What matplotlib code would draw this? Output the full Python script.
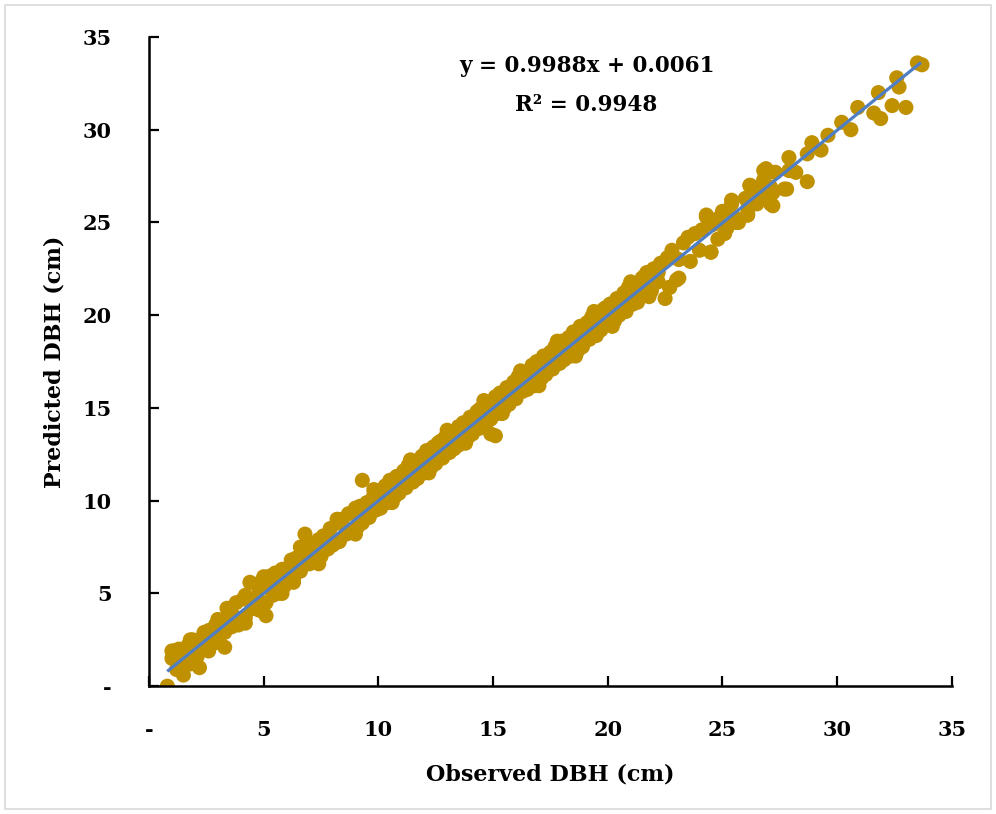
import matplotlib
matplotlib.use("Agg")
import matplotlib.pyplot as plt
from matplotlib.patches import Rectangle

plt.rcParams['font.family'] = ['DejaVu Serif']
plt.rcParams['font.weight'] = 'bold'

# observed / predicted DBH (cm) in segments
obs_a = [0.8, 1.0, 1.1, 1.2, 1.3, 1.4, 1.5, 1.6, 1.7, 1.8,
         1.9, 2.0, 2.1, 2.2, 2.3, 2.5, 2.6, 2.8, 2.9, 3.0,
         3.2, 3.3, 3.5, 3.6, 3.8, 3.9, 4.1, 4.2, 4.4, 4.6]
pred_a = [0.0, 1.5, 1.9, 0.9, 2.0, 1.3, 0.6, 1.8, 2.2, 1.2,
          2.5, 1.7, 2.2, 1.0, 2.6, 2.0, 3.0, 2.3, 3.3, 2.4,
          3.5, 2.1, 3.9, 3.2, 4.5, 3.5, 4.7, 3.7, 5.6, 4.2]

obs_b = [4.7, 4.8, 5.0, 5.1, 5.2, 5.4, 5.5, 5.6, 5.8, 5.9,
         6.0, 6.2, 6.3, 6.4, 6.6, 6.7, 6.8, 7.0, 7.1, 7.2,
         7.4, 7.5, 7.6, 7.8, 7.9, 8.0, 8.2, 8.3, 8.4, 8.6,
         8.7, 8.8, 9.0, 9.1, 9.2, 9.4, 9.5, 9.6, 9.8, 9.9, 9.3]
pred_b = [5.5, 4.1, 5.6, 3.8, 5.9, 4.9, 6.1, 5.0, 6.3, 5.4,
          5.7, 6.8, 5.6, 6.9, 6.2, 7.4, 8.2, 6.6, 7.6, 6.8,
          7.9, 7.1, 8.1, 7.4, 8.5, 7.6, 8.8, 7.8, 9.0, 8.2,
          9.3, 8.3, 9.6, 8.6, 9.7, 9.1, 9.9, 9.1, 10.3, 9.5, 11.1]

obs_c = [10.0, 10.1, 10.3, 10.4, 10.5, 10.7, 10.8, 10.9, 11.1, 11.2,
         11.3, 11.5, 11.6, 11.7, 11.9, 12.0, 12.1, 12.3, 12.4, 12.5,
         12.7, 12.8, 12.9, 13.1, 13.2, 13.3, 13.5, 13.6, 13.7, 13.9,
         14.0, 14.1, 14.3, 14.4, 14.5, 14.7, 14.8, 14.9, 15.1, 15.2,
         15.3, 15.5, 15.6, 15.7, 15.9, 15.1, 14.9]
pred_c = [10.5, 9.6, 10.8, 9.9, 11.1, 10.2, 11.3, 10.4, 11.6, 10.7,
          11.9, 11.0, 12.1, 11.2, 12.4, 11.5, 12.7, 11.8, 12.9, 12.0,
          13.2, 12.3, 13.4, 12.6, 13.7, 12.8, 14.0, 13.1, 14.2, 13.4,
          14.5, 13.6, 14.8, 13.9, 15.0, 14.2, 15.3, 14.4, 15.6, 14.7,
          15.8, 15.0, 16.1, 15.2, 16.4, 13.5, 13.6]

obs_d = [16.0, 16.1, 16.3, 16.4, 16.5, 16.7, 16.8, 16.9, 17.1, 17.2,
         17.3, 17.5, 17.6, 17.7, 17.9, 18.0, 18.1, 18.3, 18.4, 18.5,
         18.7, 18.8, 18.9, 19.1, 19.2, 19.3, 19.5, 19.6, 19.7, 19.9,
         20.0, 20.1, 20.3, 20.4, 20.5, 20.7, 20.8, 20.9, 21.1, 21.2,
         21.3, 21.5, 21.6, 21.7, 21.9]
pred_d = [15.5, 16.7, 15.9, 16.9, 16.0, 17.3, 16.2, 17.5, 16.6, 17.8,
          16.8, 18.0, 17.1, 18.3, 17.4, 18.6, 17.6, 18.8, 17.8, 19.1,
          18.1, 19.4, 18.3, 19.6, 18.7, 19.9, 18.9, 20.1, 19.2, 20.4,
          19.5, 20.6, 19.7, 20.9, 20.0, 21.2, 20.2, 21.5, 20.6, 21.7,
          20.8, 22.0, 21.1, 22.3, 21.3]

obs_e = [22.0, 22.2, 22.3, 22.5, 22.6, 22.7, 22.8, 23.0, 23.1, 23.3,
         23.5, 23.6, 23.8, 24.0, 24.1, 24.3, 24.5, 24.6, 24.8, 25.0,
         25.2, 25.4, 25.5, 25.7, 26.0, 26.1, 26.3, 26.5, 26.8, 27.0]
pred_e = [22.5, 21.8, 22.8, 20.9, 23.1, 21.5, 23.5, 21.9, 23.0, 23.9,
          24.2, 22.9, 24.4, 23.5, 24.6, 25.4, 23.4, 24.9, 24.1, 25.6,
          24.7, 26.0, 25.3, 25.0, 26.3, 25.4, 26.5, 26.0, 27.3, 26.4]

obs_f = [33.5, 33.7, 32.6, 32.7, 31.8, 32.4, 33.0, 30.9, 31.6, 31.9,
         30.2, 30.6, 29.6, 28.9, 29.3, 28.7, 27.9, 27.9, 28.2, 26.9,
         27.3, 28.7, 26.2, 26.5, 27.1, 27.2, 27.8, 26.6, 27.1, 26.1, 26.1]
pred_f = [33.6, 33.5, 32.8, 32.3, 32.0, 31.3, 31.2, 31.2, 30.9, 30.6,
          30.4, 30.0, 29.7, 29.3, 28.9, 28.7, 28.5, 27.8, 27.7, 27.9,
          27.7, 27.2, 27.0, 26.9, 26.9, 26.6, 26.8, 26.3, 26.0, 26.1, 25.5]

# the dense band between the edges
obs_g = [1.2, 1.5, 1.8, 2.1, 2.4, 2.7, 3.0, 3.3, 3.6, 3.9,
         4.2, 4.5, 4.8, 5.1, 5.4, 5.7, 6.0, 6.3, 6.6, 6.9,
         7.2, 7.5, 7.8, 8.1, 8.4, 8.7, 9.0, 9.3, 9.6, 9.9,
         10.2, 10.5, 10.8, 11.1, 11.4, 11.7, 12.0, 12.3, 12.6, 12.9,
         13.2, 13.5, 13.8, 14.1, 14.4, 14.7, 15.0, 15.3, 15.6, 15.9,
         16.2, 16.5, 16.8, 17.1, 17.4, 17.7, 18.0, 18.3, 18.6, 18.9,
         19.2, 19.5, 19.8, 20.1, 20.4, 20.7, 21.0, 21.3, 21.6, 21.9]
pred_g = [1.6, 1.2, 2.0, 1.6, 2.9, 2.5, 3.6, 2.9, 3.9, 3.3,
          4.9, 4.2, 5.2, 4.5, 6.0, 5.3, 6.3, 5.7, 7.1, 6.6,
          7.7, 7.0, 8.1, 7.7, 8.9, 8.4, 9.4, 8.8, 9.9, 9.6,
          10.6, 10.1, 11.3, 10.8, 11.7, 11.2, 12.4, 12.0, 13.1, 12.5,
          13.5, 13.0, 14.2, 13.8, 14.9, 14.3, 15.3, 14.8, 16.0, 15.6,
          16.7, 16.1, 17.1, 16.6, 17.8, 17.4, 18.5, 17.9, 18.9, 18.4,
          19.6, 19.2, 20.3, 19.7, 20.7, 20.2, 21.4, 20.7, 22.1, 21.4]

obs_h = [1.0, 1.4, 1.8, 2.2, 2.6, 3.0, 3.4, 3.8, 4.2, 4.6,
         5.0, 5.4, 5.8, 6.2, 6.6, 7.0, 7.4, 7.8, 8.2, 8.6,
         9.0, 9.4, 9.8, 10.2, 10.6, 11.0, 11.4, 11.8, 12.2, 12.6,
         13.0, 13.4, 13.8, 14.2, 14.6, 15.0, 15.4, 15.8, 16.2, 16.6,
         17.0, 17.4, 17.8, 18.2, 18.6, 19.0, 19.4, 19.8, 20.2, 20.6,
         21.0, 21.4, 21.8, 22.2]
pred_h = [1.9, 1.3, 2.5, 2.2, 1.9, 3.1, 4.2, 3.7, 3.4, 4.7,
          5.9, 5.3, 5.0, 6.3, 7.5, 7.0, 6.6, 7.9, 9.0, 8.5,
          8.2, 9.5, 10.6, 10.1, 9.9, 11.1, 12.2, 11.7, 11.5, 12.7,
          13.8, 13.3, 13.1, 14.3, 15.4, 15.0, 14.7, 15.9, 17.0, 16.5,
          16.2, 17.5, 18.6, 18.1, 17.8, 19.1, 20.2, 19.7, 19.4, 20.7,
          21.8, 21.3, 21.0, 22.3]

# scattered points between 22 and 28 cm
obs_i = [26.8, 27.3, 26.2, 27.7, 27.2, 25.6, 26.1, 25.1, 24.3, 24.5,
         23.1, 22.7, 24.8, 25.4, 26.6]
pred_i = [27.8, 27.7, 27.0, 26.8, 25.9, 25.0, 25.4, 24.4, 25.3, 23.4,
          22.0, 21.5, 25.2, 26.2, 26.2]

slope = 0.9988
intercept = 0.0061
r2 = 0.9948

ticks = [0, 5, 10, 15, 20, 25, 30, 35]
tick_labels = ['-', '5', '10', '15', '20', '25', '30', '35']

observed = obs_a + obs_b + obs_c + obs_d + obs_e + obs_f + obs_g + obs_h + obs_i
predicted = pred_a + pred_b + pred_c + pred_d + pred_e + pred_f + pred_g + pred_h + pred_i

fig = plt.figure(figsize=(9.96, 8.14), dpi=100)
ax = fig.add_axes([0.1496, 0.157, 0.806, 0.7976])

ax.scatter(observed, predicted, s=118, color='#BF9000', edgecolors='none', zorder=2)

x0, x1 = 0.85, 33.6
ax.plot([x0, x1], [slope * x0 + intercept, slope * x1 + intercept],
        color='#4F7EC4', lw=2.3, zorder=3)

ax.set_xlim(0, 35)
ax.set_ylim(0, 35)
ax.set_xticks(ticks)
ax.set_xticklabels(tick_labels)
ax.set_yticks(ticks)
ax.set_yticklabels(tick_labels)
ax.tick_params(direction='in', length=7, width=1.6, labelsize=15, pad=24)
ax.tick_params(axis='y', pad=27)
for t in ax.get_xticklabels() + ax.get_yticklabels():
    t.set_fontweight('bold')

for s in ['top', 'right']:
    ax.spines[s].set_visible(False)
for s in ['left', 'bottom']:
    ax.spines[s].set_linewidth(1.8)

ax.set_xlabel('Observed DBH (cm)', fontsize=16, fontweight='bold', labelpad=17)
ax.set_ylabel('Predicted DBH (cm)', fontsize=16, fontweight='bold', labelpad=12)

ax.text(0.545, 0.955, 'y = %.4fx + %.4f' % (slope, intercept), transform=ax.transAxes,
        ha='center', va='center', fontsize=15.5, fontweight='bold')
ax.text(0.545, 0.895, 'R² = %.4f' % r2, transform=ax.transAxes,
        ha='center', va='center', fontsize=15.5, fontweight='bold')

fig.patches.append(Rectangle((0.005, 0.006), 0.99, 0.988, transform=fig.transFigure,
                             fill=False, edgecolor='#d9d9d9', lw=1.2))

fig.savefig('out.png', dpi=100)
